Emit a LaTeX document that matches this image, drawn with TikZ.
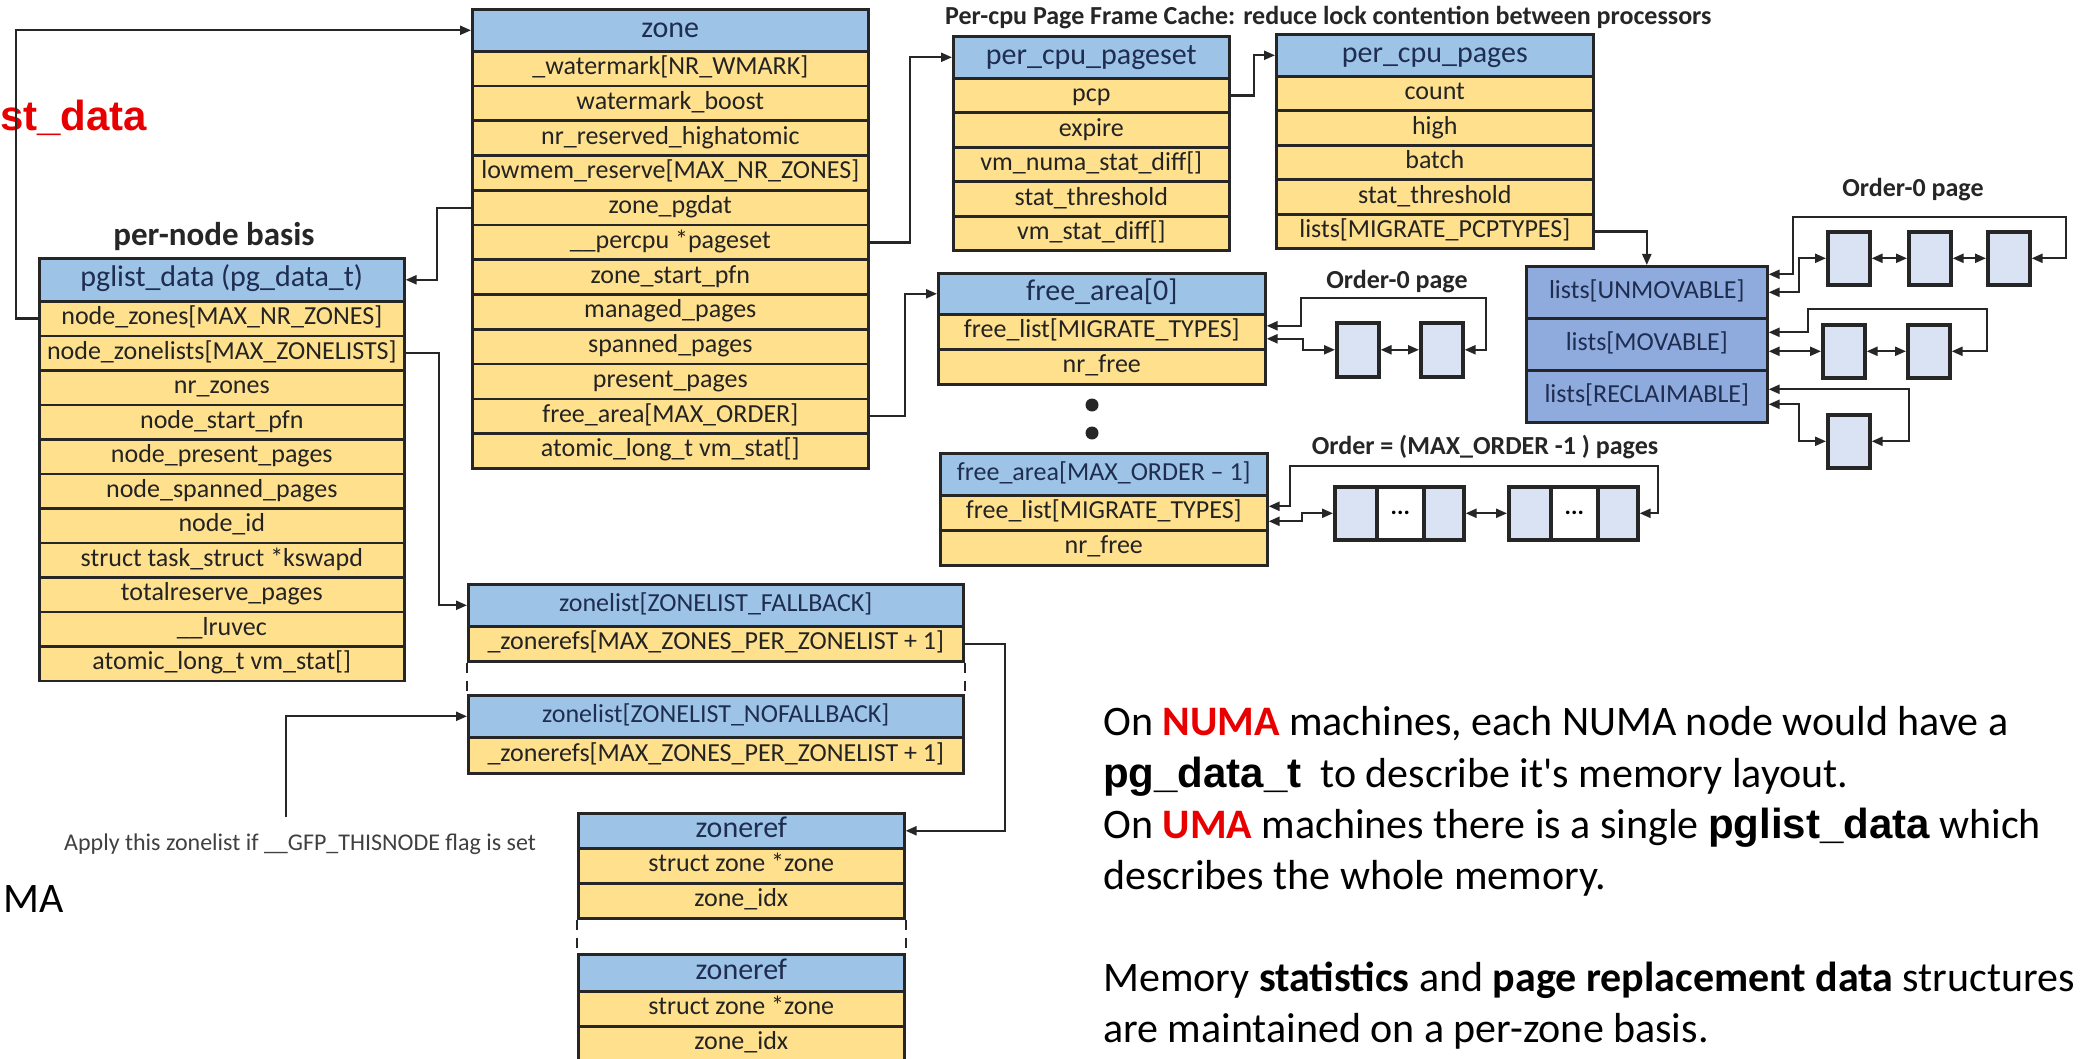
\documentclass[tikz,border=0pt]{standalone}
\usepackage{fontspec}
\setmainfont{Carlito}
\newfontfamily\arial{Liberation Sans}
\usetikzlibrary{arrows.meta}

\definecolor{hdrblue}{RGB}{157,195,230}
\definecolor{rowgold}{RGB}{255,224,140}
\definecolor{listblue}{RGB}{143,170,220}
\definecolor{pagefill}{RGB}{218,227,243}
\definecolor{edge}{RGB}{38,38,38}
\definecolor{hdrtext}{RGB}{30,45,80}
\definecolor{rowtext}{RGB}{35,35,35}
\definecolor{hot}{RGB}{232,0,0}
\definecolor{softgrey}{RGB}{64,64,64}

\tikzset{
  cell/.style={draw=edge, line width=2.6pt, inner sep=0pt, anchor=north west},
  hdrcell/.style={cell, fill=hdrblue, text=hdrtext, font=\fontsize{30}{34}\selectfont, text height=20pt, text depth=6pt},
  hdrsmall/.style={cell, fill=hdrblue, text=hdrtext, font=\fontsize{26}{30}\selectfont, text height=17pt, text depth=5pt},
  rowcell/.style={cell, fill=rowgold, text=rowtext, font=\fontsize{26}{30}\selectfont, text height=17pt, text depth=5pt},
  listcell/.style={cell, fill=listblue, text=hdrtext, font=\fontsize{26}{30}\selectfont, text height=17pt, text depth=5pt, minimum width=241pt, minimum height=52pt},
  page/.style={draw=edge, line width=3.6pt, fill=pagefill, inner sep=0pt, minimum width=42pt, minimum height=53pt, anchor=north west},
  gapcell/.style={page, fill=white, minimum width=47pt, font=\bfseries\fontsize{24}{28}\selectfont},
  conn/.style={draw=edge, line width=2.2pt},
  dashlink/.style={draw=edge, line width=2pt, dash pattern=on 10pt off 8pt},
  >={Triangle[length=11pt,width=9pt]},
  lbl/.style={font=\bfseries\fontsize{26}{30}\selectfont, text=edge, inner sep=0pt},
  note/.style={anchor=base west, inner sep=0pt, font=\fontsize{42}{50}\selectfont},
  dot/.style={circle, fill=edge, inner sep=0pt, minimum size=13pt},
}

% name, left, top, width, header height, row height, header style, header text, rows
\newcommand{\structbox}[9]{%
  \node[#7, minimum width=#4pt, minimum height=#5pt] (#1-h) at (#2,#3) {#8};
  \foreach \txt [count=\i] in {#9}{%
    \node[rowcell, minimum width=#4pt, minimum height=#6pt] (#1-\i) at (#2,{#3+#5+(\i-1)*#6}) {\txt};
  }%
}

\begin{document}
\begin{tikzpicture}[x=1pt, y=-1pt]
\useasboundingbox (0,0) rectangle (2080,1059);
\fill[white] (0,0) rectangle (2080,1059);

% ---------- structures ----------
\structbox{zone}{471}{8}{396}{42}{34.75}{hdrcell}{zone}{\_watermark[NR\_WMARK], watermark\_boost, nr\_reserved\_highatomic, lowmem\_reserve[MAX\_NR\_ZONES], zone\_pgdat, \_\_percpu *pageset, zone\_start\_pfn, managed\_pages, spanned\_pages, present\_pages, free\_area[MAX\_ORDER], atomic\_long\_t vm\_stat[]}

\structbox{pg}{38}{257}{365}{43}{34.5}{hdrcell}{pglist\_data (pg\_data\_t)}{node\_zones[MAX\_NR\_ZONES], node\_zonelists[MAX\_ZONELISTS], nr\_zones, node\_start\_pfn, node\_present\_pages, node\_spanned\_pages, node\_id, struct task\_struct *kswapd, totalreserve\_pages, \_\_lruvec, atomic\_long\_t vm\_stat[]}

\structbox{pcs}{952}{35}{276}{42}{34.5}{hdrcell}{per\_cpu\_pageset}{pcp, expire, vm\_numa\_stat\_diff[], stat\_threshold, vm\_stat\_diff[]}

\structbox{ppg}{1275}{33}{317}{42}{34.5}{hdrcell}{per\_cpu\_pages}{count, high, batch, stat\_threshold, lists[MIGRATE\_PCPTYPES]}

\structbox{faz}{937}{272}{327}{41}{35}{hdrcell}{free\_area[0]}{free\_list[MIGRATE\_TYPES], nr\_free}

\structbox{fam}{939}{452}{327}{42}{35}{hdrsmall}{free\_area[MAX\_ORDER – 1]}{free\_list[MIGRATE\_TYPES], nr\_free}

\structbox{zla}{467}{583}{495}{42}{35}{hdrsmall}{zonelist[ZONELIST\_FALLBACK]}{\_zonerefs[MAX\_ZONES\_PER\_ZONELIST + 1]}

\structbox{zlb}{467}{694}{495}{42}{36}{hdrsmall}{zonelist[ZONELIST\_NOFALLBACK]}{\_zonerefs[MAX\_ZONES\_PER\_ZONELIST + 1]}

\structbox{zra}{577}{812}{326}{35}{35}{hdrcell}{zoneref}{struct zone *zone, zone\_idx}

\structbox{zrb}{577}{953}{326}{37}{35}{hdrcell}{zoneref}{struct zone *zone, zone\_idx}

% per-cpu migrate-type lists
\node[listcell] (lst-1) at (1525,265) {lists[UNMOVABLE]};
\node[listcell] (lst-2) at (1525,317) {lists[MOVABLE]};
\node[listcell] (lst-3) at (1525,369) {lists[RECLAIMABLE]};

% ---------- pages ----------
\node[page] (u1) at (1826,230) {};
\node[page] (u2) at (1907,230) {};
\node[page] (u3) at (1986,230) {};
\node[page] (m1) at (1821,323) {};
\node[page] (m2) at (1906,323) {};
\node[page] (r1) at (1826,413) {};
\node[page, minimum height=54pt] (f1) at (1335,321) {};
\node[page, minimum height=54pt] (f2) at (1419,321) {};
\node[page] (g1a) at (1333,485) {};
\node[gapcell] (g1b) at (1375,485) {...};
\node[page, minimum width=40pt] (g1c) at (1422,485) {};
\node[page] (g2a) at (1507,485) {};
\node[gapcell] (g2b) at (1549,485) {...};
\node[page, minimum width=40pt] (g2c) at (1596,485) {};

% ---------- labels ----------
\node[lbl, anchor=west] (pcptitle) at (945,18) {Per-cpu Page Frame Cache: reduce lock contention between processors};
\node[font=\bfseries\fontsize{33}{38}\selectfont, text=edge, inner sep=0pt] (pernode) at (214,237) {per-node basis};
\node[lbl] (ordzeroa) at (1397,282) {Order-0 page};
\node[lbl] (ordzerob) at (1913,190) {Order-0 page};
\node[lbl] (ordmax) at (1485,447) {Order = (MAX\_ORDER -1 ) pages};
\node[dot] (dota) at (1092,405) {};
\node[dot] (dotb) at (1092,433) {};

\node[anchor=base west, inner sep=0pt, text=hot, font=\arial\bfseries\fontsize{42}{48}\selectfont] (cuta) at (0,131) {st\_data};
\node[anchor=base west, inner sep=0pt, font=\fontsize{42}{48}\selectfont] (cutb) at (3,912) {MA};
\node[anchor=base west, inner sep=0pt, text=softgrey, font=\fontsize{24}{28}\selectfont] (apply) at (64,850) {Apply this zonelist if \_\_GFP\_THISNODE flag is set};

\node[note] (nta) at (1103,735) {On \textcolor{hot}{\textbf{NUMA}} machines, each NUMA node would have a};
\node[note] (ntb) at (1103,787) {{\arial\bfseries pg\_data\_t}\ \ to describe it\textquotesingle s memory layout.};
\node[note] (ntc) at (1103,838) {On \textcolor{hot}{\textbf{UMA}} machines there is a single {\arial\bfseries pglist\_data} which};
\node[note] (ntd) at (1103,889) {describes the whole memory.};
\node[note] (nte) at (1103,991) {Memory \textbf{statistics} and \textbf{page replacement data} structures};
\node[note] (ntf) at (1103,1042) {are maintained on a per-zone basis.};

% ---------- connectors ----------
\draw[conn,->] (pg-1.west) -- ++(-22,0) |- (zone-h.west);
\draw[conn,->] (zone-5.west) -- ++(-34,0) |- (pg-h.east);
\draw[conn,->] (pg-2.east) -- ++(33,0) |- (zla-h.west);
\draw[conn,->] (zone-6.east) -- ++(40,0) |- (pcs-h.west);
\draw[conn,->] (zone-11.east) -- ++(35,0) |- (faz-h.west);
\draw[conn,->] (pcs-1.east) -- ++(23,0) |- (ppg-h.west);
\draw[conn,->] (ppg-5.east) -| (lst-1.north);
\coordinate (applyfoot) at (286,817);
\draw[conn,->] (applyfoot) |- (zlb-h.west);
\draw[conn,->] (zla-1.east) -- ++(40,0) |- (zra-h.east);

\draw[dashlink] (zla-1.south west) -- (zlb-h.north west);
\draw[dashlink] (zla-1.south east) -- (zlb-h.north east);
\draw[dashlink] (zra-2.south west) -- (zrb-h.north west);
\draw[dashlink] (zra-2.south east) -- (zrb-h.north east);

% free_area[0] list
\draw[conn,<->] ([yshift=6pt]faz-1.east) -- ++(34,0) |- (1486,298) |- (f2.east);
\draw[conn,<->] ([yshift=-7pt]faz-1.east) -- ++(36,0) |- (f1.west);
\draw[conn,<->] (f1.east) -- (f2.west);

% free_area[MAX_ORDER-1] list
\draw[conn,<->] ([yshift=6.5pt]fam-1.east) -- ++(21,0) |- (1658,466) |- (g2c.east);
\draw[conn,<->] ([yshift=-8.5pt]fam-1.east) -- ++(33,0) |- (g1a.west);
\draw[conn,<->] (g1c.east) -- (g2a.west);

% per-cpu lists
\draw[conn,<->] ([yshift=18pt]lst-1.east) -- ++(24,0) |- (2066,217) |- (u3.east);
\draw[conn,<->] (lst-1.east) -- ++(30,0) |- (u1.west);
\draw[conn,<->] (u1.east) -- (u2.west);
\draw[conn,<->] (u2.east) -- (u3.west);

\draw[conn,<->] ([yshift=12pt]lst-2.east) -- ++(39,0) |- (1987,309) |- (m2.east);
\draw[conn,<->] (m1.west -| lst-2.east) -- (m1.west);
\draw[conn,<->] (m1.east) -- (m2.west);

\draw[conn,<->] ([yshift=7pt]lst-3.east) -- ++(140,0) |- (r1.east);
\draw[conn,<->] ([yshift=-8pt]lst-3.east) -- ++(30,0) |- (r1.west);
\end{tikzpicture}
\end{document}
